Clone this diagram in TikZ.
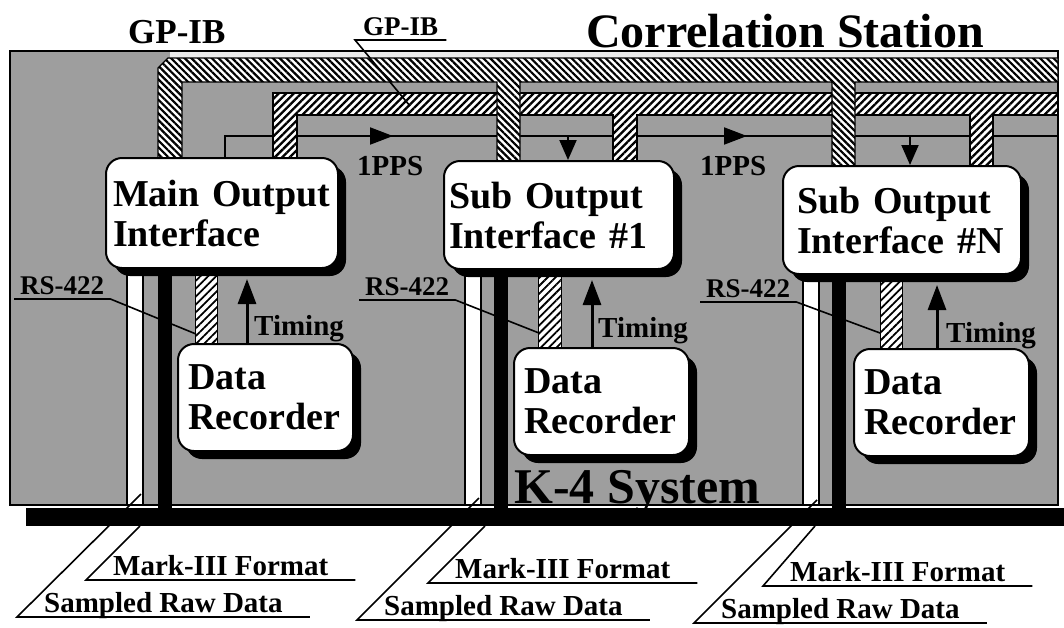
\documentclass[tikz,border=0pt]{standalone}
\usepackage{fontspec}
\setmainfont{Liberation Serif}
\usetikzlibrary{arrows.meta,patterns.meta,shadows,decorations.markings}
\pgfdeclarelayer{background}
\pgfsetlayers{background,main}
\definecolor{stipple}{gray}{0.62}
\newcommand{\boxfont}{\fontsize{38}{40}\selectfont\bfseries}
\newcommand{\labelfont}{\fontsize{29}{30}\selectfont\bfseries}
\newcommand{\smallfont}{\fontsize{27}{28}\selectfont\bfseries}

\begin{document}
\begin{tikzpicture}[x=1pt, y=-1pt,
    box/.style={draw, line width=2pt, fill=white, rounded corners=16pt,
        drop shadow={shadow xshift=8pt, shadow yshift=-8pt, fill=black, opacity=1},
        anchor=north west, align=left, font=\boxfont, inner xsep=7pt},
    lbl/.style={font=\labelfont, inner sep=0pt, anchor=base west},
    uline/.style={font=\labelfont, anchor=south west, inner ysep=4pt, text depth=0pt},
    leader/.style={line width=1.6pt},
    pps/.style={line width=2pt},
    ppstip/.style={line width=2pt, -{Triangle[length=20pt, width=17pt]}},
    timing/.style={line width=3pt, -{Triangle[length=25pt, width=18pt]}, shorten >=10pt},
    outerbus/.style={draw, line width=1.4pt, preaction={fill=white},
        pattern={Lines[angle=-45, distance=4.8pt, line width=2.2pt]}},
    innerbus/.style={draw, line width=1.4pt, preaction={fill=white},
        pattern={Lines[angle=45, distance=5.3pt, line width=2.3pt]}},
    rsband/.style={draw, line width=0.8pt, preaction={fill=white},
        pattern={Lines[angle=45, distance=5.6pt, line width=1.8pt]}},
    rawpath/.style={draw, line width=1.2pt, fill=white},
    markiii/.style={line width=14pt}]
    \useasboundingbox (0,0) rectangle (1064,627);

    % Các khối giao tiếp đầu ra
    \node[box, text width=218pt, minimum height=110pt] (mainif) at (105,157) {Main Output\\Interface};
    \node[box, text width=220pt, inner xsep=5pt, minimum height=108pt] (sub1if) at (443,160) {Sub Output\\Interface \#1};
    \node[box, text width=210pt, inner xsep=14pt, minimum height=108pt] (subnif) at (782,165) {Sub Output\\Interface \#N};

    % Các bộ ghi dữ liệu
    \node[box, text width=155pt, inner xsep=10pt, minimum height=107pt] (rec0) at (177,343) {Data\\Recorder};
    \node[box, text width=155pt, inner xsep=10pt, minimum height=107pt] (rec1) at (513,347) {Data\\Recorder};
    \node[box, text width=155pt, inner xsep=10pt, minimum height=107pt] (recn) at (853,348) {Data\\Recorder};

    % Toạ độ các đường tín hiệu
    \coordinate (ppsout) at (225,136);
    \coordinate (ppsend) at (1058,136);
    \coordinate (pps1) at (568,136);
    \coordinate (ppsn) at (910,136);
    \coordinate (t0) at (247,0);
    \coordinate (t1) at (592,0);
    \coordinate (tn) at (937,0);
    \coordinate (r0) at (195,0);  \coordinate (r0e) at (217,0);
    \coordinate (r1) at (538,0);  \coordinate (r1e) at (561,0);
    \coordinate (rn) at (880,0);  \coordinate (rne) at (902,0);
    \coordinate (w0) at (127,0);  \coordinate (w0e) at (143,505);
    \coordinate (w1) at (465,0);  \coordinate (w1e) at (481,505);
    \coordinate (wn) at (803,0);  \coordinate (wne) at (819,505);
    \coordinate (c0) at (165,517);
    \coordinate (c1) at (501,517);
    \coordinate (cn) at (839,517);

    \begin{pgfonlayer}{background}
        \fill[white] (0,0) rectangle (1064,627);
        % Khung hệ thống K-4
        \filldraw[fill=stipple, line width=1.5pt] (10,51) rectangle (1058,505);
        \fill[black!8] (170,52) rectangle (1057,58);

        % Đường 1PPS
        \draw[pps, decoration={markings,
                mark=at position 189pt with {\arrow{Triangle[length=23pt, width=17pt]}},
                mark=at position 543pt with {\arrow{Triangle[length=23pt, width=17pt]}}},
            postaction={decorate}]
            (mainif.north -| ppsout) -- (ppsout) -- (ppsend);

        % Bus GP-IB trong
        \path[innerbus] (273,160) -- (273,93) -- (1058,93) -- (1058,115) -- (993,115)
            -- (993,168) -- (970,168) -- (970,115) -- (637,115) -- (637,163)
            -- (613,163) -- (613,115) -- (297,115) -- (297,160) -- cycle;

        % Bus GP-IB ngoài
        \path[outerbus] (158,160) -- (158,68) -- (168,58) -- (1058,58) -- (1058,82)
            -- (855,82) -- (855,168) -- (832,168) -- (832,82) -- (520,82) -- (520,163)
            -- (497,163) -- (497,82) -- (182,82) -- (182,160) -- cycle;

        % Dữ liệu thô và Mark-III xuống bus
        \path[rawpath] (mainif.south -| w0) rectangle (w0e);
        \path[rawpath] (sub1if.south -| w1) rectangle (w1e);
        \path[rawpath] (subnif.south -| wn) rectangle (wne);
        \draw[markiii] (mainif.south -| c0) -- (c0);
        \draw[markiii] (sub1if.south -| c1) -- (c1);
        \draw[markiii] (subnif.south -| cn) -- (cn);

        % RS-422
        \path[rsband] (mainif.south -| r0) rectangle (rec0.north -| r0e);
        \path[rsband] (sub1if.south -| r1) rectangle (rec1.north -| r1e);
        \path[rsband] (subnif.south -| rn) rectangle (recn.north -| rne);
    \end{pgfonlayer}

    % Timing
    \draw[timing] (rec0.north -| t0) -- (mainif.south -| t0);
    \draw[timing] (rec1.north -| t1) -- (sub1if.south -| t1);
    \draw[timing] (recn.north -| tn) -- (subnif.south -| tn);
    \node[lbl] (tim0) at (254,335) {Timing};
    \node[lbl] (tim1) at (598,337) {Timing};
    \node[lbl] (timn) at (946,342) {Timing};

    % 1PPS vào các khối phụ
    \draw[ppstip] (pps1) -- (sub1if.north -| pps1);
    \draw[ppstip] (ppsn) -- (subnif.north -| ppsn);
    \node[lbl] (ppslbl0) at (357,175) {1PPS};
    \node[lbl] (ppslbl1) at (700,175) {1PPS};

    % Nhãn RS-422
    \coordinate (rsend0) at (196,334);
    \coordinate (rsend1) at (539,333);
    \coordinate (rsendn) at (880,333);
    \node[uline, font=\smallfont, inner xsep=6pt] (rs0) at (14,299) {RS-422};
    \node[uline, font=\smallfont, inner xsep=6pt] (rs1) at (359,300) {RS-422};
    \node[uline, font=\smallfont, inner xsep=6pt] (rsn) at (700,302) {RS-422};
    \draw[leader] (rs0.south west) -- (rs0.south east) -- (rsend0);
    \draw[leader] (rs1.south west) -- (rs1.south east) -- (rsend1);
    \draw[leader] (rsn.south west) -- (rsn.south east) -- (rsendn);

    % Nhãn dưới bus
    \coordinate (mkbus0) at (140,526);
    \coordinate (mkbus1) at (485,526);
    \coordinate (mkbusn) at (815,526);
    \coordinate (rawtop0) at (141,494);
    \coordinate (rawtop1) at (479,498);
    \coordinate (rawtopn) at (817,500);
    \node[uline, inner xsep=27pt] (mk0) at (86,580) {Mark-III Format};
    \node[uline, inner xsep=27pt] (mk1) at (428,583) {Mark-III Format};
    \node[uline, inner xsep=27pt] (mkn) at (763,586) {Mark-III Format};
    \node[uline, inner xsep=27pt] (raw0) at (17,617) {Sampled Raw Data};
    \node[uline, inner xsep=27pt] (raw1) at (357,620) {Sampled Raw Data};
    \node[uline, inner xsep=27pt] (rawn) at (694,623) {Sampled Raw Data};
    \draw[leader] (mkbus0) -- (mk0.south west) -- (mk0.south east);
    \draw[leader] (mkbus1) -- (mk1.south west) -- (mk1.south east);
    \draw[leader] (mkbusn) -- (mkn.south west) -- (mkn.south east);
    \draw[leader] (rawtop0) -- (raw0.south west) -- (raw0.south east);
    \draw[leader] (rawtop1) -- (raw1.south west) -- (raw1.south east);
    \draw[leader] (rawtopn) -- (rawn.south west) -- (rawn.south east);

    % Bus chung
    \fill (26,508) rectangle (1064,526);
    \node[lbl, font=\fontsize{50}{52}\selectfont\bfseries] (k4) at (514,503) {K-4 System};

    % Tiêu đề và GP-IB
    \node[lbl, font=\fontsize{48}{50}\selectfont\bfseries] (title) at (586,47) {Correlation Station};
    \node[lbl, font=\fontsize{35}{36}\selectfont\bfseries] (gpib) at (128,43) {GP-IB};
    \coordinate (gpibhit) at (410,106);
    \node[uline, font=\smallfont, inner xsep=8pt] (gpibin) at (355,40) {GP-IB};
    \draw[leader] (gpibin.south east) -- (gpibin.south west) -- (gpibhit);
\end{tikzpicture}
\end{document}
